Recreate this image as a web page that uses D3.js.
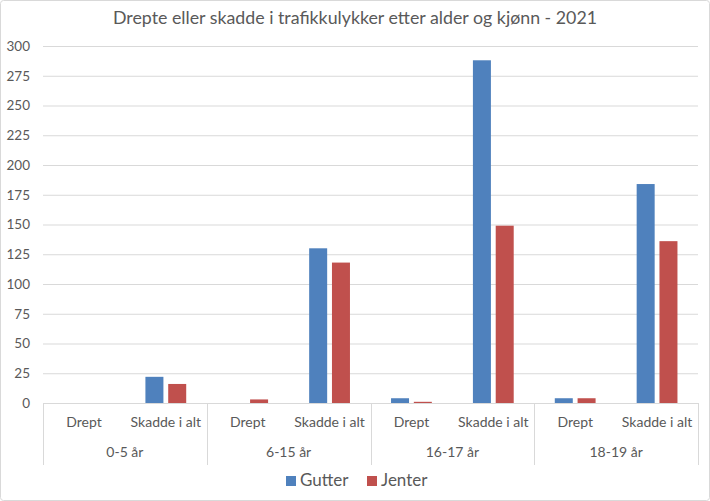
<!DOCTYPE html>
<html><head><meta charset="utf-8">
<script src="https://cdn.jsdelivr.net/npm/d3@7"></script>
<style>body{margin:0;background:#fff}svg{display:block;font-family:Lato,"Open Sans",sans-serif}</style>
</head><body><svg id="c" width="710" height="501"></svg>
<script>
const groups = ["0-5 år","6-15 år","16-17 år","18-19 år"];
const subs = ["Drept","Skadde i alt"];
const series = ["Gutter","Jenter"];
const gutter = [0,22, 0,130, 4,288, 4,184];
const jenter = [0,16, 3,118, 1,149, 4,136];
const yTicks = [0,25,50,75,100,125,150,175,200,225,250,275,300];
const colors = ["#4f81bd","#c0504d"];
const title = "Drepte eller skadde i trafikkulykker etter alder og kjønn - 2021";

const svg = d3.select("#c");
svg.append("rect").attr("x",0.5).attr("y",0.5).attr("width",709).attr("height",500).attr("rx",3)
  .attr("fill","#fff").attr("stroke","#d9d9d9");
svg.append("text").attr("x",355).attr("y",24).attr("text-anchor","middle").attr("font-size",17.8)
  .attr("fill","#595959").text(title);

const L=43,R=698,T=46,B=403;
const y=d3.scaleLinear().domain([0,300]).range([B,T]);
const keys=[];groups.forEach(g=>subs.forEach(s=>keys.push(g+"|"+s)));
const x=d3.scaleBand().domain(keys).range([L,R]);
const gx=d3.scaleBand().domain(groups).range([L,R]);

const gy=svg.append("g").attr("transform",`translate(${L},0)`)
  .call(d3.axisLeft(y).tickValues(yTicks).tickSize(-(R-L)).tickPadding(13));
gy.select(".domain").remove();
gy.selectAll(".tick line").attr("stroke","#d9d9d9");
gy.selectAll(".tick text").attr("fill","#595959").attr("font-size",13.5).attr("font-family","Lato,'Open Sans',sans-serif");

const bw=18, off=11.4;
const data=[];
keys.forEach((k,i)=>{data.push({k,s:0,v:gutter[i]});data.push({k,s:1,v:jenter[i]});});
svg.append("g").selectAll("rect").data(data).join("rect")
  .attr("x",d=>x(d.k)+x.bandwidth()/2+(d.s?off:-off)-bw/2)
  .attr("width",bw).attr("y",d=>y(d.v)).attr("height",d=>B-y(d.v))
  .attr("fill",d=>colors[d.s]);

// category axis
const ax=svg.append("g");
ax.append("line").attr("x1",L).attr("x2",R).attr("y1",B+0.5).attr("y2",B+0.5).attr("stroke","#d9d9d9");
groups.concat([null]).forEach((g,i)=>{
  const xx=Math.round(L+i*gx.bandwidth())+0.5;
  ax.append("line").attr("x1",xx).attr("x2",xx).attr("y1",B).attr("y2",465).attr("stroke","#d9d9d9");
});
ax.selectAll("text.sub").data(keys).join("text").attr("class","sub")
  .attr("x",d=>x(d)+x.bandwidth()/2).attr("y",427).attr("text-anchor","middle")
  .attr("font-size",14).attr("fill","#595959").text(d=>d.split("|")[1]);
ax.selectAll("text.grp").data(groups).join("text").attr("class","grp")
  .attr("x",d=>gx(d)+gx.bandwidth()/2).attr("y",457).attr("text-anchor","middle")
  .attr("font-size",14).attr("fill","#595959").text(d=>d);

// legend
const lg=svg.append("g");
const lx=[286,367];
series.forEach((s,i)=>{
  lg.append("rect").attr("x",lx[i]).attr("y",476).attr("width",10).attr("height",10).attr("fill",colors[i]);
  lg.append("text").attr("x",lx[i]+14).attr("y",486).attr("font-size",17).attr("fill","#595959").text(s);
});
</script></body></html>
